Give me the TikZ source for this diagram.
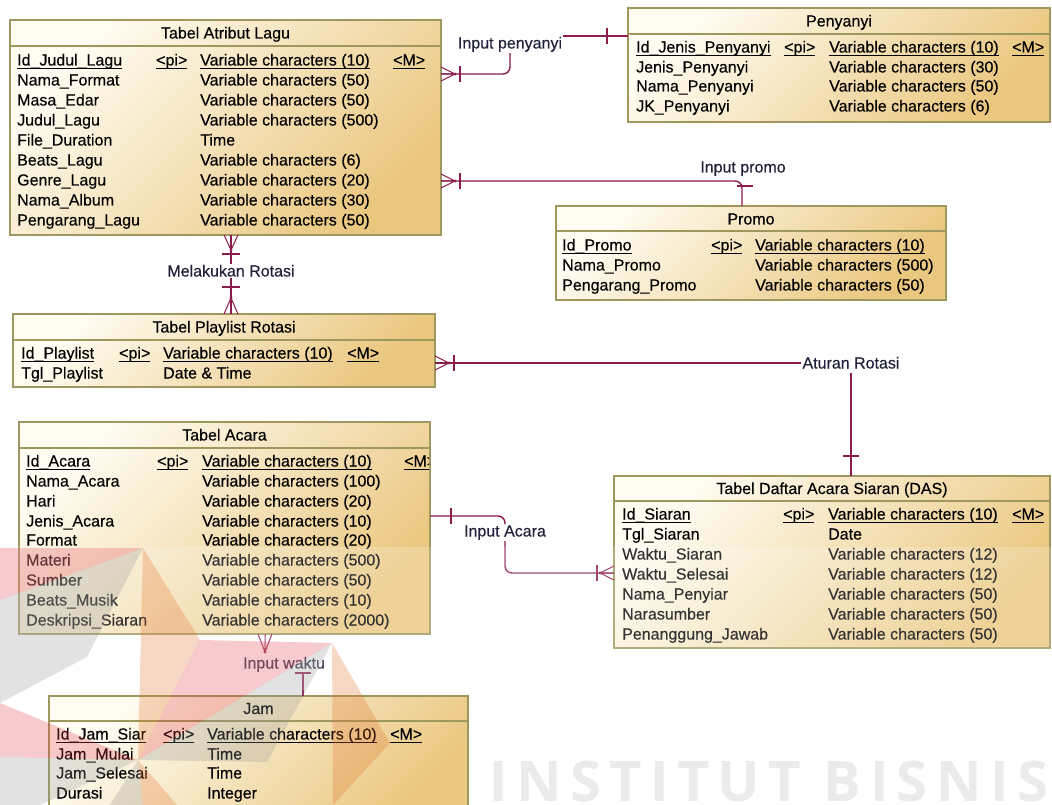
\documentclass[tikz,border=0pt]{standalone}
\usepackage{fontspec}
\setmainfont{Liberation Sans}
\newfontfamily\rowfont[FakeBold=0.25]{Liberation Sans}
\newfontfamily\wmfont[LetterSpace=15]{Open Sans}
\usetikzlibrary{calc}

\definecolor{tblborder}{RGB}{158,152,94}
\definecolor{tbltop}{RGB}{255,252,242}
\definecolor{tblbot}{RGB}{234,199,127}
\definecolor{relcol}{RGB}{139,26,77}
\definecolor{lblcol}{RGB}{32,32,58}
\definecolor{wmgray}{RGB}{235,235,235}
\definecolor{wmred}{RGB}{226,60,76}
\definecolor{wmorange}{RGB}{226,112,44}
\definecolor{wmdark}{RGB}{150,150,150}

% underlined key text, line at a fixed depth below the baseline
\newcommand{\keyline}[1]{\setbox0\hbox{#1}\rlap{\vrule height -2.2pt depth 3.2pt width \wd0}\box0}

% text cells of the entity tables
\newcounter{ertxt}
\newcommand{\ertext}[3]{\stepcounter{ertxt}\node[rowtext] (txt\arabic{ertxt}) at (#1,{#2+5.5}) {#3};}
\newcommand{\ercols}[4]{\def\colA{#1}\def\colB{#2}\def\colC{#3}\def\colD{#4}}
\newcommand{\erkey}[3]{\ertext{\colA}{#1}{\keyline{#2}}\ertext{\colB}{#1}{\keyline{<pi>}}\ertext{\colC}{#1}{\keyline{#3}}}
\newcommand{\ermand}[1]{\ertext{\colD}{#1}{\keyline{<M>}}}
\newcommand{\erattr}[3]{\ertext{\colA}{#1}{#2}\ertext{\colC}{#1}{#3}}

\begin{document}
\begin{tikzpicture}[x=1pt,y=-1pt,
  ertable/.style={draw=tblborder, line width=1.4pt, top color=tbltop, bottom color=tblbot,
    shading angle=45, rectangle, inner sep=0pt, outer sep=0pt, anchor=north west},
  divider/.style={draw=tblborder, line width=1.2pt},
  rowtext/.style={anchor=base west, inner sep=0pt, font=\rowfont\fontsize{16}{19}\selectfont, text=black},
  titletext/.style={anchor=base, inner sep=0pt, font=\rowfont\fontsize{16}{19}\selectfont, text=black},
  rellabel/.style={anchor=base, inner sep=1pt, font=\rowfont\fontsize{16}{19}\selectfont, text=lblcol},
  rel/.style={draw=relcol, line width=1.4pt},
  crow/.style={draw=relcol, line width=1pt},
  crowR/.pic={\draw[crow] (0,-7) -- (14,0) -- (0,7) (0,0) -- (14,0);
    \fill[relcol] (14,0) circle (1.6); \draw[rel] (19,-8) -- (19,8);},
  crowL/.pic={\draw[crow] (0,-7) -- (-14,0) -- (0,7) (0,0) -- (-14,0);
    \fill[relcol] (-14,0) circle (1.6); \draw[rel] (-17,-8) -- (-17,8);},
  crowD/.pic={\draw[crow] (-7,0) -- (0,15) -- (7,0) (0,0) -- (0,15);
    \fill[relcol] (0,15) circle (1.6); \draw[rel] (-9,19) -- (9,19);},
  crowU/.pic={\draw[crow] (-7,0) -- (0,-16) -- (7,0) (0,0) -- (0,-16);
    \fill[relcol] (0,-16) circle (1.6); \draw[rel] (-9,-27) -- (9,-27);},
  crowDnb/.pic={\draw[crow] (-7,0) -- (0,18) -- (7,0) (0,0) -- (0,18);
    \fill[relcol] (0,18) circle (1.6);},
  barV/.pic={\draw[rel] (0,-8) -- (0,8);},
  barH/.pic={\draw[rel] (-8,0) -- (8,0);},
]
\useasboundingbox (0,0) rectangle (1052,805);
\begin{scope}
\clip (0,0) rectangle (1052,805);
\fill[white] (0,0) rectangle (1052,805);

% ---------- Tabel Atribut Lagu ----------
\node[ertable, minimum width=431pt, minimum height=215pt] (lagu) at (10,20) {};
\draw[divider] ([yshift=-26pt]lagu.north west) -- ([yshift=-26pt]lagu.north east);
\node[titletext] (ttlLagu) at ([yshift=-18.5pt]lagu.north) {Tabel Atribut Lagu};
\ercols{17}{156}{200}{393}
\erkey{60}{Id\_Judul\_Lagu}{Variable characters (10)}\ermand{60}
\erattr{80}{Nama\_Format}{Variable characters (50)}
\erattr{100}{Masa\_Edar}{Variable characters (50)}
\erattr{120}{Judul\_Lagu}{Variable characters (500)}
\erattr{140}{File\_Duration}{Time}
\erattr{160}{Beats\_Lagu}{Variable characters (6)}
\erattr{180}{Genre\_Lagu}{Variable characters (20)}
\erattr{200}{Nama\_Album}{Variable characters (30)}
\erattr{220}{Pengarang\_Lagu}{Variable characters (50)}

% ---------- Penyanyi ----------
\node[ertable, minimum width=422pt, minimum height=114pt] (peny) at (628,8) {};
\draw[divider] ([yshift=-26pt]peny.north west) -- ([yshift=-26pt]peny.north east);
\node[titletext] (ttlPeny) at ([yshift=-18.5pt]peny.north) {Penyanyi};
\ercols{636}{784}{829}{1012}
\erkey{47}{Id\_Jenis\_Penyanyi}{Variable characters (10)}\ermand{47}
\erattr{67}{Jenis\_Penyanyi}{Variable characters (30)}
\erattr{86}{Nama\_Penyanyi}{Variable characters (50)}
\erattr{106}{JK\_Penyanyi}{Variable characters (6)}

% ---------- Promo ----------
\node[ertable, minimum width=390pt, minimum height=94pt] (promo) at (556,206) {};
\draw[divider] ([yshift=-25pt]promo.north west) -- ([yshift=-25pt]promo.north east);
\node[titletext] (ttlPromo) at ([yshift=-18.5pt]promo.north) {Promo};
\ercols{562}{711}{755}{0}
\erkey{245}{Id\_Promo}{Variable characters (10)}
\erattr{265}{Nama\_Promo}{Variable characters (500)}
\erattr{285}{Pengarang\_Promo}{Variable characters (50)}

% ---------- Tabel Playlist Rotasi ----------
\node[ertable, minimum width=422pt, minimum height=73pt] (playlist) at (13,314) {};
\draw[divider] ([yshift=-26pt]playlist.north west) -- ([yshift=-26pt]playlist.north east);
\node[titletext] (ttlPlay) at ([yshift=-18.5pt]playlist.north) {Tabel Playlist Rotasi};
\ercols{21}{119}{163}{347}
\erkey{353}{Id\_Playlist}{Variable characters (10)}\ermand{353}
\erattr{373}{Tgl\_Playlist}{Date \& Time}

% ---------- Tabel Acara ----------
\node[ertable, minimum width=411pt, minimum height=212pt] (acara) at (19,422) {};
\draw[divider] ([yshift=-26pt]acara.north west) -- ([yshift=-26pt]acara.north east);
\node[titletext] (ttlAcara) at ([yshift=-18.5pt]acara.north) {Tabel Acara};
\ercols{26}{157}{202}{404}
\erkey{461}{Id\_Acara}{Variable characters (10)}
\begin{scope}
  \clip ([xshift=-1pt]acara.north east) rectangle (acara.south west);
  \ermand{461}
\end{scope}
\erattr{481}{Nama\_Acara}{Variable characters (100)}
\erattr{501}{Hari}{Variable characters (20)}
\erattr{521}{Jenis\_Acara}{Variable characters (10)}
\erattr{540}{Format}{Variable characters (20)}
\erattr{560}{Materi}{Variable characters (500)}
\erattr{580}{Sumber}{Variable characters (50)}
\erattr{600}{Beats\_Musik}{Variable characters (10)}
\erattr{620}{Deskripsi\_Siaran}{Variable characters (2000)}

% ---------- Tabel Daftar Acara Siaran (DAS) ----------
\node[ertable, minimum width=436pt, minimum height=172pt] (das) at (614,476) {};
\draw[divider] ([yshift=-25pt]das.north west) -- ([yshift=-25pt]das.north east);
\node[titletext] (ttlDas) at ([yshift=-18pt]das.north) {Tabel Daftar Acara Siaran (DAS)};
\ercols{622}{783}{828}{1012}
\erkey{514}{Id\_Siaran}{Variable characters (10)}\ermand{514}
\erattr{534}{Tgl\_Siaran}{Date}
\erattr{554}{Waktu\_Siaran}{Variable characters (12)}
\erattr{574}{Waktu\_Selesai}{Variable characters (12)}
\erattr{594}{Nama\_Penyiar}{Variable characters (50)}
\erattr{614}{Narasumber}{Variable characters (50)}
\erattr{634}{Penanggung\_Jawab}{Variable characters (50)}

% ---------- Jam ----------
\node[ertable, minimum width=419pt, minimum height=130pt] (jam) at (49,696) {};
\draw[divider] ([yshift=-25pt]jam.north west) -- ([yshift=-25pt]jam.north east);
\node[titletext] (ttlJam) at ([yshift=-18pt]jam.north) {Jam};
\ercols{56}{163}{207}{390}
\erkey{734}{Id\_Jam\_Siar}{Variable characters (10)}\ermand{734}
\erattr{754}{Jam\_Mulai}{Time}
\erattr{773}{Jam\_Selesai}{Time}
\erattr{793}{Durasi}{Integer}

% ---------- Relationships ----------
% Input penyanyi
\node[rellabel] (lPeny) at (510,48.5) {Input penyanyi};
\draw[rel, rounded corners=7pt] (lagu.east |- 0,74) -- (lPeny.south |- 0,74) -- (lPeny.south);
\draw[rel] (lPeny.east |- 0,36) -- (peny.west |- 0,36);
\pic at ([xshift=-21pt]peny.west |- 0,36) {barV};
\pic at (lagu.east |- 0,74) {crowR};

% Input promo
\node[rellabel] (lPromo) at (743,172.5) {Input promo};
\coordinate (pPromoTop) at (742,206);
\draw[rel, rounded corners=7pt] (lagu.east |- 0,181) -- (pPromoTop |- 0,181) -- (pPromoTop);
\pic at ([xshift=3pt,yshift=20pt]pPromoTop) {barH};
\pic at (lagu.east |- 0,181) {crowR};

% Melakukan Rotasi
\node[rellabel] (lRot) at (231,276.5) {Melakukan Rotasi};
\draw[rel] (lagu.south -| lRot) -- (lRot.north);
\draw[rel] (lRot.south) -- (playlist.north -| lRot);
\pic at (lagu.south -| lRot) {crowD};
\pic at (playlist.north -| lRot) {crowU};

% Aturan Rotasi
\node[rellabel] (lAtur) at (851,368.5) {Aturan Rotasi};
\draw[rel] (playlist.east |- 0,363) -- (lAtur.west |- 0,363);
\draw[rel] ([yshift=-3pt]lAtur.south) -- (das.north -| lAtur);
\pic at ([yshift=20pt]das.north -| lAtur) {barH};
\pic at (playlist.east |- 0,363) {crowR};

% Input Acara
\node[rellabel] (lAcara) at (505,536.5) {Input Acara};
\draw[rel, rounded corners=7pt] (acara.east |- 0,516) -- (lAcara.north |- 0,516) -- (lAcara.north);
\draw[rel, rounded corners=7pt] (lAcara.south) -- (lAcara.south |- 0,573) -- (das.west |- 0,573);
\pic at ([xshift=21pt]acara.east |- 0,516) {barV};
\pic at (das.west |- 0,573) {crowL};

% Input waktu
\node[rellabel] (lWaktu) at (284,668.5) {Input waktu};
\coordinate (pJamTop) at (303,696);
\pic at (acara.south -| 265,0) {crowDnb};
\draw[rel] ([yshift=23pt]pJamTop) -- (pJamTop);
\pic at ([yshift=23pt]pJamTop) {barH};

% ---------- faint institutional watermark ----------
\fill[white, fill opacity=0.2] (0,547) rectangle (1052,690);
\begin{scope}[fill opacity=0.27]
  \coordinate (wA) at (143,548);
  \coordinate (wB) at (332,643);
  \coordinate (wC) at (138,760);
  \fill[wmred] (0,548) -- (wA) -- (0,600) -- cycle;
  \fill[wmdark] (0,600) -- (wA) -- (87,657) -- (0,703) -- cycle;
  \fill[wmred] (0,703) -- (wC) -- (0,757) -- cycle;
  \fill[wmdark] (0,757) -- (wC) -- (40,805) -- (0,805) -- cycle;
  \fill[wmorange] (wA) -- (200,640) -- (wC) -- cycle;
  \fill[wmred] (200,640) -- (wB) -- (wC) -- cycle;
  \fill[wmdark] (wB) -- (wC) -- (267,762) -- cycle;
  \fill[wmorange] (wB) -- (390,743) -- (333,805) -- cycle;
  \fill[wmorange] (wC) -- (177,805) -- (143,805) -- cycle;
  \fill[wmdark] (wC) -- (143,805) -- (110,805) -- cycle;
\end{scope}
\node[anchor=base west, inner sep=0pt, text=wmgray,
  font=\wmfont\bfseries\fontsize{56}{60}\selectfont] (wmText) at (489,801) {INSTITUT BISNIS};
\end{scope}
\end{tikzpicture}
\end{document}
